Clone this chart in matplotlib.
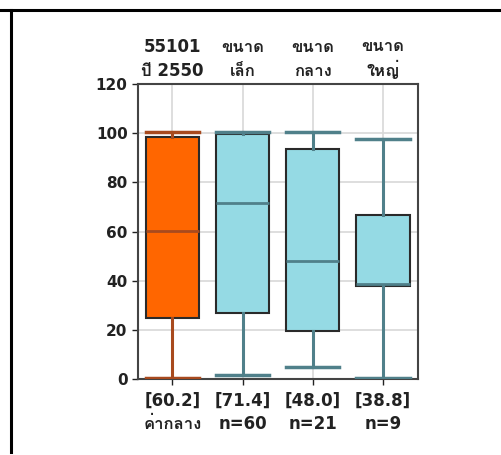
import matplotlib
matplotlib.use("Agg")
import matplotlib.pyplot as plt
from matplotlib.lines import Line2D

# data
top_labels = ["55101\nปี 2550", "ขนาด\nเล็ก", "ขนาด\nกลาง", "ขนาด\nใหญ่"]
bottom_labels = ["[60.2]\nค่ากลาง", "[71.4]\nn=60", "[48.0]\nn=21", "[38.8]\nn=9"]
medians = [60.2, 71.4, 48.0, 38.8]
q1 = [25.0, 27.0, 19.5, 37.8]
q3 = [98.3, 99.7, 93.7, 66.9]
whis_lo = [0.3, 1.5, 4.9, 0.3]
whis_hi = [100.5, 100.3, 100.5, 97.5]

face_colors = ["#ff6600", "#95dae4", "#95dae4", "#95dae4"]
line_colors = ["#a84a1e", "#50808a", "#50808a", "#50808a"]

fam = ["DejaVu Sans", "Loma", "IBM Plex Sans Thai"]
plt.rcParams["font.family"] = fam
plt.rcParams["font.weight"] = "bold"

fig = plt.figure(figsize=(5.02, 4.55), dpi=100)
ax = fig.add_axes([0.2749, 0.167, 0.5578, 0.6484])

stats = []
for i in range(len(medians)):
    stats.append(dict(med=medians[i], q1=q1[i], q3=q3[i],
                      whislo=whis_lo[i], whishi=whis_hi[i], fliers=[]))

positions = list(range(len(stats)))
bp = ax.bxp(stats, positions=positions, widths=0.76, patch_artist=True,
            showfliers=False, zorder=3)
for i, box in enumerate(bp["boxes"]):
    box.set_facecolor(face_colors[i])
    box.set_edgecolor("#2a2a2a")
    box.set_linewidth(1.5)
    bp["medians"][i].set_color(line_colors[i])
    bp["medians"][i].set_linewidth(2)
    for w in bp["whiskers"][2 * i:2 * i + 2]:
        w.set_color(line_colors[i])
        w.set_linewidth(2.2)
    for c in bp["caps"][2 * i:2 * i + 2]:
        c.set_color(line_colors[i])
        c.set_linewidth(2.5)
        c.set_xdata([i - 0.38, i + 0.38])

ax.set_xlim(-0.49, 3.5)
ax.set_ylim(0, 120)
ax.set_yticks(range(0, 121, 20))
ax.set_xticks(positions)
ax.set_xticklabels(bottom_labels, fontsize=12, linespacing=1.4)
ax.tick_params(axis="y", labelsize=11)
ax.tick_params(axis="both", colors="#222222", length=4, width=1)
ax.tick_params(axis="x", pad=5)
ax.grid(True, color="#d8d8d8", linewidth=1.2, zorder=0)
ax.set_axisbelow(True)
for s in ax.spines.values():
    s.set_color("#444444")
    s.set_linewidth(1.5)

top = ax.secondary_xaxis("top")
top.set_xticks(positions)
top.set_xticklabels(top_labels, fontsize=12, linespacing=1.4)
top.tick_params(length=0, pad=3, colors="#222222")
top.spines["top"].set_visible(False)

# frame lines of the surrounding cell
fig.add_artist(Line2D([0, 1], [1 - 9.5 / 455, 1 - 9.5 / 455], color="black", linewidth=2.2))
fig.add_artist(Line2D([11 / 502, 11 / 502], [1 - 9.5 / 455, 1 - 452 / 455], color="black", linewidth=2.2))

fig.savefig("out.png", dpi=100)
